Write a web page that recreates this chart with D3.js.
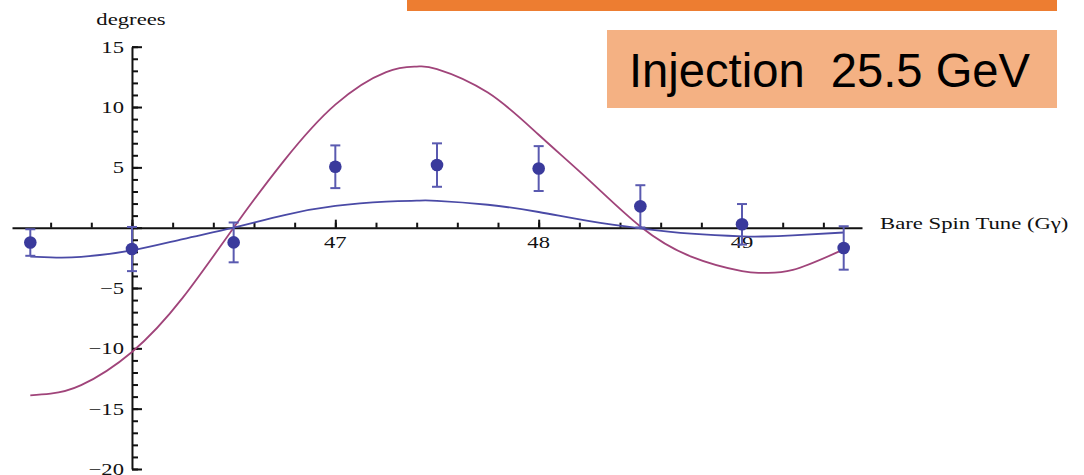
<!DOCTYPE html>
<html>
<head>
<meta charset="utf-8">
<script src="https://cdn.jsdelivr.net/npm/d3@7"></script>
<style>
  body { margin: 0; background: #fff; }
  svg { display: block; }
</style>
</head>
<body>
<svg id="chart" width="1084" height="475"></svg>
<script>
// measured points (bare spin tune, degrees, error)
const tunes = [45.5, 46, 46.5, 47, 47.5, 48, 48.5, 49, 49.5];
const measured = [-1.23, -1.77, -1.22, 5.05, 5.19, 4.9, 1.77, 0.28, -1.68];
const errors = [1.1, 1.83, 1.65, 1.77, 1.8, 1.86, 1.75, 1.68, 1.8];

// model curves
const curveTunes = [45.5, 45.6, 45.75, 46, 46.25, 46.5, 46.75, 47, 47.25, 47.4, 47.5, 47.75, 48, 48.25, 48.5, 48.75, 49, 49.1, 49.25, 49.5];
const redCurve = [-13.9, -13.75, -13.05, -10.3, -5.8, 0.0, 5.6, 10.2, 12.9, 13.35, 13.15, 11.2, 7.7, 3.9, 0.1, -2.4, -3.6, -3.74, -3.5, -1.8];
const blueCurve = [-2.4, -2.46, -2.42, -1.88, -0.95, 0.0, 1.05, 1.8, 2.16, 2.24, 2.23, 1.9, 1.3, 0.55, -0.05, -0.5, -0.72, -0.73, -0.63, -0.4];

const xTickLabels = [47, 48, 49];
const yTickLabels = [15, 10, 5, -5, -10, -15, -20];

const svg = d3.select("#chart");

const x = d3.scaleLinear().domain([45.41, 49.59]).range([12, 862]);
const y = d3.scaleLinear().domain([-20, 15]).range([469, 46.7]);

const textColor = "#111";
const blue = "#3a3a9c";
const red = "#a0447a";

// orange header bits
svg.append("rect")
  .attr("x", 407).attr("y", 0)
  .attr("width", 650).attr("height", 11)
  .attr("fill", "#ED7D31");

svg.append("rect")
  .attr("x", 607).attr("y", 30)
  .attr("width", 450).attr("height", 78)
  .attr("fill", "#F4B183");

svg.append("text")
  .attr("x", 629).attr("y", 87)
  .attr("textLength", 401)
  .attr("lengthAdjust", "spacingAndGlyphs")
  .style("white-space", "pre")
  .style("font-family", "'Liberation Sans', Arial, sans-serif")
  .style("font-size", "48px")
  .attr("fill", "#000")
  .text("Injection  25.5 GeV");

// x axis (ticks point up)
const gx = svg.append("g").attr("transform", `translate(0,${y(0)})`);
gx.call(
  d3.axisTop(x)
    .tickValues(d3.range(45.6, 49.5, 0.2))
    .tickSize(5)
    .tickSizeOuter(0)
    .tickFormat("")
);
gx.append("g").call(
  d3.axisTop(x).tickValues([46, 47, 48, 49]).tickSize(8).tickFormat("")
).select(".domain").remove();

// y axis (ticks point right)
const gy = svg.append("g").attr("transform", `translate(${x(46)},0)`);
gy.call(
  d3.axisRight(y)
    .tickValues(d3.range(-20, 16, 1))
    .tickSize(6)
    .tickSizeOuter(0)
    .tickFormat("")
);
gy.append("g").call(
  d3.axisRight(y).tickValues(d3.range(-20, 16, 5)).tickSize(10).tickFormat("")
).select(".domain").remove();

svg.selectAll(".domain, .tick line")
  .attr("stroke", "#111")
  .attr("stroke-width", 2);

// tick labels, serif and a bit stretched like the original
const fmt = d3.format("d");
svg.append("g").selectAll("text")
  .data(yTickLabels)
  .join("text")
  .attr("transform", d => `translate(${x(46) - 8},${y(d)}) scale(1.33,1)`)
  .attr("text-anchor", "end")
  .attr("dy", "0.35em")
  .style("font-family", "'Liberation Serif', 'Times New Roman', serif")
  .style("font-size", "17px")
  .attr("fill", textColor)
  .text(d => fmt(d));

svg.append("g").selectAll("text")
  .data(xTickLabels)
  .join("text")
  .attr("transform", d => `translate(${x(d)},${y(0) + 20}) scale(1.33,1)`)
  .attr("text-anchor", "middle")
  .style("font-family", "'Liberation Serif', 'Times New Roman', serif")
  .style("font-size", "17px")
  .attr("fill", textColor)
  .text(d => fmt(d));

svg.append("text")
  .attr("transform", `translate(${x(46) - 1},25) scale(1.42,1)`)
  .attr("text-anchor", "middle")
  .style("font-family", "'Liberation Serif', 'Times New Roman', serif")
  .style("font-size", "16px")
  .attr("fill", textColor)
  .text("degrees");

svg.append("text")
  .attr("transform", `translate(880,${y(0) + 1.5}) scale(1.42,1)`)
  .style("font-family", "'Liberation Serif', 'Times New Roman', serif")
  .style("font-size", "16px")
  .attr("fill", textColor)
  .text("Bare Spin Tune (Gγ)");

// curves
const line = d3.line()
  .x(d => x(d[0]))
  .y(d => y(d[1]))
  .curve(d3.curveNatural);

svg.append("path")
  .datum(d3.zip(curveTunes, redCurve))
  .attr("d", line)
  .attr("fill", "none")
  .attr("stroke", red)
  .attr("stroke-width", 1.8);

svg.append("path")
  .datum(d3.zip(curveTunes, blueCurve))
  .attr("d", line)
  .attr("fill", "none")
  .attr("stroke", "#4a4aa6")
  .attr("stroke-width", 1.8);

// error bars and points
const points = d3.zip(tunes, measured, errors);
const bars = svg.append("g")
  .attr("stroke", "#5a5ab0")
  .attr("stroke-width", 2);

bars.selectAll(".stem")
  .data(points)
  .join("line")
  .attr("x1", d => x(d[0])).attr("x2", d => x(d[0]))
  .attr("y1", d => y(d[1] + d[2])).attr("y2", d => y(d[1] - d[2]));

bars.selectAll(".capTop")
  .data(points)
  .join("line")
  .attr("x1", d => x(d[0]) - 5).attr("x2", d => x(d[0]) + 5)
  .attr("y1", d => y(d[1] + d[2])).attr("y2", d => y(d[1] + d[2]));

bars.selectAll(".capBot")
  .data(points)
  .join("line")
  .attr("x1", d => x(d[0]) - 5).attr("x2", d => x(d[0]) + 5)
  .attr("y1", d => y(d[1] - d[2])).attr("y2", d => y(d[1] - d[2]));

svg.append("g").selectAll("circle")
  .data(points)
  .join("circle")
  .attr("cx", d => x(d[0]))
  .attr("cy", d => y(d[1]))
  .attr("r", 6.3)
  .attr("fill", blue);
</script>
</body>
</html>
